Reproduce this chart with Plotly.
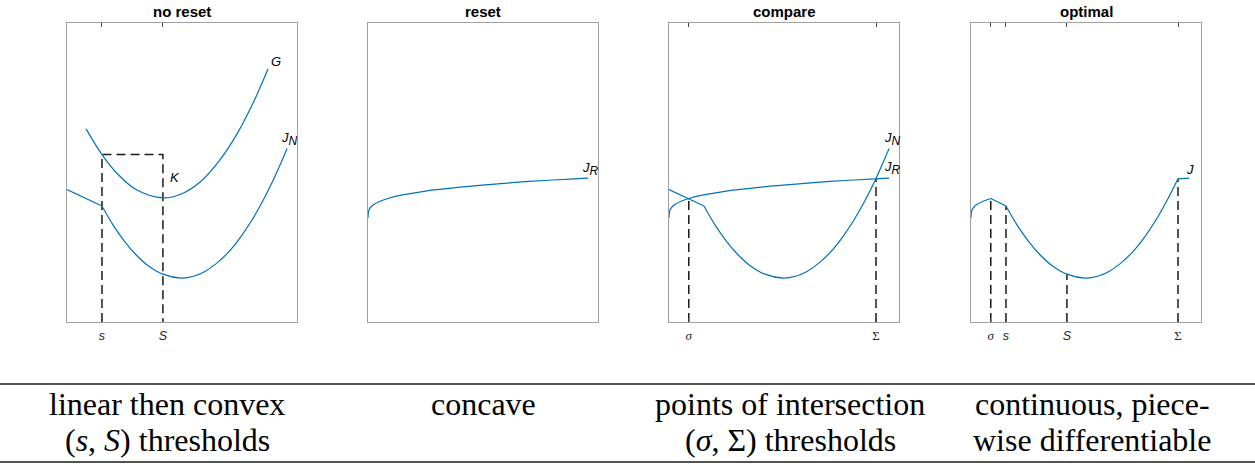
import plotly.graph_objects as go

# ---------------- data (x and y in % of each panel's box) ----------------
# thresholds
SIG_LO = 8.6     # sigma
S_LO = 15.2      # s
S_HI = 41.7      # S
SIG_HI = 90.0    # Sigma

# G(x) in "no reset"
G_X = [8.3, 15.2, 22, 30, 41.7, 50, 58, 66, 74, 81, 87.4]
G_Y = [64.6, 56.0, 49.5, 44.3, 41.5, 42.9, 46.9, 53.7, 63.0, 73.4, 84.6]

# J_N : linear part, then convex part
JN_LIN_X = [0, 15.2]
JN_LIN_Y = [44.3, 38.8]
JN_X = [15.2, 20, 25, 30, 35, 41.7, 49.6, 55, 60, 65, 70, 75, 80, 85, 90, 95.7]
JN_Y = [38.8, 32.5, 27.0, 22.5, 19.0, 16.0, 14.7, 15.3, 16.9, 19.6, 23.2, 27.9, 33.6, 40.3, 48.0, 58.0]

# J_R : concave
JR_X = [0, 0.3, 1, 2.5, 5, 8.6, 15, 25, 40, 55, 70, 90, 95.7]
JR_Y = [34.8, 37.2, 38.2, 39.3, 40.3, 41.3, 42.5, 43.8, 45.1, 46.1, 47.0, 47.9, 48.1]

# optimal J (pieces)
J1_X = [0, 0.3, 1, 2.5, 5, 8.6]
J1_Y = [34.8, 37.2, 38.2, 39.3, 40.3, 41.3]
J2_X = [8.6, 15.2]
J2_Y = [41.3, 38.8]
J3_X = [15.2, 20, 25, 30, 35, 41.7, 49.6, 55, 60, 65, 70, 75, 80, 85, 90]
J3_Y = [38.8, 32.5, 27.0, 22.5, 19.0, 16.0, 14.7, 15.3, 16.9, 19.6, 23.2, 27.9, 33.6, 40.3, 47.9]
J4_X = [90, 94.8]
J4_Y = [47.9, 48.1]

# heights of dashed guides
G_AT_s = 56.0
JN_AT_SIG = 41.3
JN_AT_s = 38.8
JN_AT_S = 16.0
JR_AT_SIG = 47.9

TITLES = ["no reset", "reset", "compare", "optimal"]
ROW1 = ["linear then convex", "concave", "points of intersection", "continuous, piece-"]
ROW2 = ["(<i>s</i>, <i>S</i>) thresholds", "", "(<i>σ</i>, Σ) thresholds", "wise differentiable"]

# ---------------- layout helpers ----------------
W, H = 1255, 466
LEFTS = [67, 368, 669, 971]
PW = 230
TOP, BOT = 23, 322
BLUE = "#0072BD"
DASH = "#1a1a1a"

def px(x):
    return x / W

def py(y):
    return 1 - y / H

fig = go.Figure()

def add_line(i, x, y, shape="spline", color=BLUE, width=1.2, dash=None):
    ax = "" if i == 0 else str(i + 1)
    fig.add_trace(go.Scatter(
        x=x, y=y, mode="lines", xaxis="x" + ax, yaxis="y" + ax,
        line=dict(color=color, width=width, shape=shape, dash=dash),
        showlegend=False, hoverinfo="skip"))

DSTYLE = dict(shape="linear", color=DASH, width=1.5, dash="9px,5px")

# panel 1: no reset
add_line(0, [S_LO, S_LO, S_HI, S_HI], [0, G_AT_s, G_AT_s, 0], **DSTYLE)
add_line(0, G_X, G_Y)
add_line(0, JN_LIN_X, JN_LIN_Y, shape="linear")
add_line(0, JN_X, JN_Y)

# panel 2: reset
add_line(1, JR_X, JR_Y)

# panel 3: compare
add_line(2, [SIG_LO, SIG_LO], [0, JN_AT_SIG], **DSTYLE)
add_line(2, [SIG_HI, SIG_HI], [0, JR_AT_SIG], **DSTYLE)
add_line(2, JR_X, JR_Y)
add_line(2, JN_LIN_X, JN_LIN_Y, shape="linear")
add_line(2, JN_X, JN_Y)

# panel 4: optimal
add_line(3, [SIG_LO, SIG_LO], [0, JN_AT_SIG], **DSTYLE)
add_line(3, [S_LO, S_LO], [0, JN_AT_s], **DSTYLE)
add_line(3, [S_HI, S_HI], [0, JN_AT_S], **DSTYLE)
add_line(3, [SIG_HI, SIG_HI], [0, JR_AT_SIG], **DSTYLE)
add_line(3, J1_X, J1_Y)
add_line(3, J2_X, J2_Y, shape="linear")
add_line(3, J3_X, J3_Y)
add_line(3, J4_X, J4_Y, shape="linear")

SERIF = "Liberation Serif"
sig_lbl = "<span style='font-family:Liberation Serif;font-size:13px'><i>σ</i></span>"
Sig_lbl = "<span style='font-family:Liberation Serif;font-size:13px'>Σ</span>"
tick_sets = [
    ([S_LO, S_HI], ["<i>s</i>", "<i>S</i>"]),
    ([], []),
    ([SIG_LO, SIG_HI], [sig_lbl, Sig_lbl]),
    ([SIG_LO, S_LO, S_HI, SIG_HI], [sig_lbl, "<i>s</i>", "<i>S</i>", Sig_lbl]),
]

layout = dict(
    width=W, height=H, margin=dict(l=0, r=0, t=0, b=0),
    paper_bgcolor="white", plot_bgcolor="white",
    font=dict(family="Liberation Sans", color="#262626", size=12),
)
for i in range(4):
    ax = "" if i == 0 else str(i + 1)
    tv, tt = tick_sets[i]
    layout["xaxis" + ax] = dict(
        domain=[px(LEFTS[i]), px(LEFTS[i] + PW)], range=[0, 100],
        anchor="y" + ax, showgrid=False, zeroline=False,
        showline=True, linecolor="#a0a0a0", linewidth=1, mirror="ticks",
        ticks="inside" if tv else "", ticklen=4, tickwidth=1, tickcolor="#404040",
        tickvals=tv, ticktext=tt, tickfont=dict(size=12.5, color="#262626"),
        ticklabelstandoff=2,
        fixedrange=True)
    layout["yaxis" + ax] = dict(
        domain=[py(BOT), py(TOP)], range=[0, 100],
        anchor="x" + ax, showgrid=False, zeroline=False,
        showline=True, linecolor="#a0a0a0", linewidth=1, mirror=True,
        showticklabels=False, ticks="", fixedrange=True)
fig.update_layout(**layout)

ann = []
# titles
for i, t in enumerate(TITLES):
    ann.append(dict(x=px(LEFTS[i] + PW / 2), y=py(12), xref="paper", yref="paper",
                    text="<b>%s</b>" % t, showarrow=False, xanchor="center", yanchor="middle",
                    font=dict(size=15, color="black", family="Liberation Sans")))

def curve_label(i, x, y, text):
    ax = "" if i == 0 else str(i + 1)
    ann.append(dict(x=x, y=y, xref="x" + ax, yref="y" + ax, text=text, showarrow=False,
                    xanchor="left", yanchor="middle",
                    font=dict(size=13, color="black", family="Liberation Sans")))

SUBN = "<i>J</i><sub><span style='font-size:12px'><i>N</i></span></sub>"
SUBR = "<i>J</i><sub><span style='font-size:12px'><i>R</i></span></sub>"
curve_label(0, 87.8, 87.1, "<i>G</i>")
curve_label(0, 43.9, 48.3, "<i>K</i>")
curve_label(0, 92.0, 61.3, SUBN)
curve_label(1, 92.0, 51.3, SUBR)
curve_label(2, 92.8, 61.3, SUBN)
curve_label(2, 92.8, 51.6, SUBR)
curve_label(3, 92.6, 51.0, "<i>J</i>")

# table text
COLX = [167, 483, 790, 1092]
for i in range(4):
    ann.append(dict(x=px(COLX[i]), y=py(404), xref="paper", yref="paper", text=ROW1[i],
                    showarrow=False, xanchor="center", yanchor="middle",
                    font=dict(size=32, color="black", family=SERIF)))
    if ROW2[i]:
        ann.append(dict(x=px(COLX[i]), y=py(440), xref="paper", yref="paper", text=ROW2[i],
                        showarrow=False, xanchor="center", yanchor="middle",
                        font=dict(size=32, color="black", family=SERIF)))
fig.update_layout(annotations=ann)

shapes = []
for yy in (384, 462):
    shapes.append(dict(type="line", xref="paper", yref="paper", x0=0, x1=1,
                       y0=py(yy), y1=py(yy), line=dict(color="#1a1a1a", width=1.3)))
fig.update_layout(shapes=shapes)

fig.write_html("out.html")
